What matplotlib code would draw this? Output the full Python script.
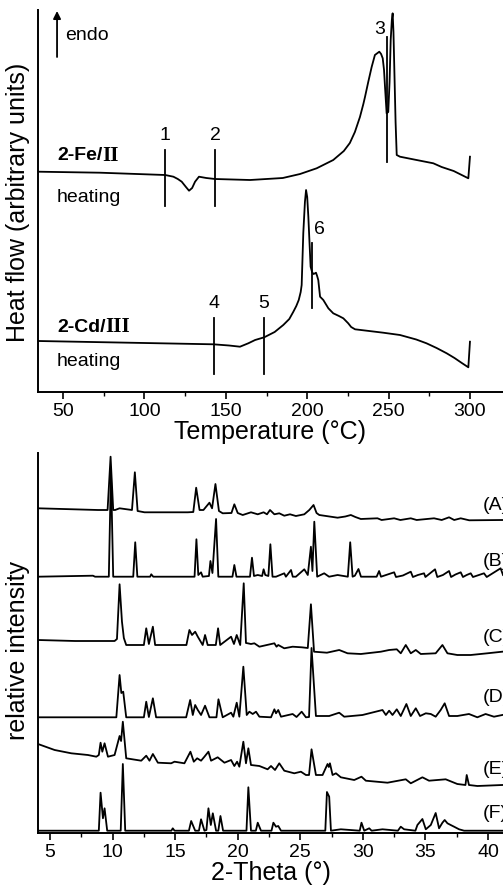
import matplotlib
matplotlib.use("Agg")
import matplotlib.pyplot as plt
from matplotlib.ticker import MultipleLocator

plt.rcParams['font.family'] = ['Liberation Sans', 'DejaVu Sans']

# ---------------- DSC data (temperature in degC, heat flow arbitrary units) -------------
fe_T = [34.8, 72.7, 112.7, 117.8, 120.5, 122.9, 125.5, 127.4, 129.3, 131.1, 133.5, 138.0,
        143.4, 164.9, 185.0, 195.6, 205.8, 216.0, 222.5, 226.2, 229.3, 232.4, 234.5, 235.5,
        237.5, 239.6, 241.6, 244.3, 245.4, 246.4, 247.2, 247.8, 248.8, 249.8, 250.6, 251.3,
        252.0, 252.5, 253.0, 253.5, 254.3, 255.0, 257.0, 267.2, 277.5, 282.6, 290.0, 299.0,
        300.0]
fe_H = [220.3, 219.3, 217.0, 215.3, 213.0, 210.3, 205.0, 201.3, 204.0, 210.3, 215.3, 214.0,
        213.0, 212.0, 214.0, 218.0, 223.7, 232.0, 241.0, 249.0, 260.0, 275.0, 288.0, 295.0,
        310.0, 325.0, 337.0, 340.3, 338.0, 333.7, 322.0, 305.3, 278.7, 280.0, 310.0, 352.0,
        372.0, 378.7, 360.0, 325.3, 270.0, 237.0, 235.3, 232.0, 228.7, 225.0, 221.0, 213.7,
        235.3]

cd_T = [34.8, 100.0, 142.3, 152.0, 158.7, 163.8, 168.0, 173.6, 180.0, 185.3, 189.0, 191.5,
        193.3, 194.8, 196.0, 196.6, 197.6, 198.6, 199.3, 200.0, 200.7, 201.4, 202.1, 203.0,
        203.8, 204.6, 205.4, 206.1, 206.8, 207.9, 209.9, 213.0, 216.0, 219.5, 222.2, 225.2,
        227.0, 229.4, 246.7, 257.0, 267.0, 273.3, 279.5, 285.7, 290.5, 295.0, 299.0, 300.0]
cd_H = [51.0, 49.0, 47.7, 46.5, 45.3, 48.7, 52.0, 54.7, 60.0, 67.0, 73.0, 80.3,
        86.0, 92.0, 100.0, 107.0, 159.0, 190.0, 202.0, 195.0, 175.3, 150.0, 125.3, 120.0,
        118.0, 118.5, 119.3, 116.0, 112.0, 95.3, 92.0, 83.7, 78.7, 76.0, 73.7, 68.7,
        65.0, 62.7, 59.3, 57.0, 52.5, 48.7, 44.0, 38.7, 34.0, 29.0, 24.7, 50.3]

marker_labels = ['1', '2', '3', '4', '5', '6']
marker_T = [112.7, 143.4, 248.8, 142.8, 173.5, 203.1]
marker_lo = [186, 186, 230, 18, 18, 84]
marker_hi = [242, 242, 355, 74, 74, 149]
marker_label_T = [112.7, 143.4, 244.3, 142.8, 173.5, 207.4]
marker_label_H = [257, 257, 362, 89, 89, 162]

# ---------------- XRD data (2-theta in degrees, relative intensity) ---------------------
pattern_A = [(4.04, 324.7), (8.83, 323), (9.6, 323), (9.84, 376.3), (10.05, 323), (10.2, 323),
             (10.56, 324.7), (11.55, 323), (11.78, 360.7), (12.0, 322), (12.55, 320.7),
             (16.01, 320.7), (16.45, 321), (16.68, 345.3), (16.95, 323), (17.26, 323),
             (17.74, 330.3), (17.95, 324.7), (18.22, 349), (18.5, 322), (18.80, 319.7),
             (19.5, 320), (19.73, 328.7), (20.0, 320), (20.40, 318), (21.06, 320.7),
             (21.60, 318.7), (22.07, 320.7), (22.34, 318.7), (22.58, 323), (22.93, 318.7),
             (23.32, 319.7), (23.72, 317.3), (24.18, 318.7), (24.65, 317), (25.32, 318.7),
             (25.72, 323), (26.06, 328), (26.3, 320), (26.52, 318), (27.98, 315.3),
             (28.6, 316.5), (29.04, 318), (29.4, 316), (29.84, 314), (31.17, 314.7),
             (31.5, 313), (32.5, 314.7), (33.0, 313), (33.83, 314.7), (34.3, 313),
             (35.69, 314.7), (36.3, 313), (36.89, 315.7), (37.3, 313), (37.82, 314.7),
             (38.5, 312.7), (41.2, 313)]
pattern_B = [(4.04, 256.3), (8.43, 257.3), (8.6, 256.3), (9.7, 256.3), (9.87, 361.3),
             (10.05, 256.3), (11.65, 256.3), (11.81, 290.7), (11.98, 256.3), (13.0, 256.3),
             (13.09, 258.7), (13.25, 256.3), (16.55, 256.3), (16.70, 293.7), (16.85, 258),
             (17.07, 260.7), (17.2, 256.3), (17.7, 257), (17.82, 272), (17.98, 260),
             (18.27, 314), (18.45, 256.3), (19.58, 256.3), (19.73, 268), (19.9, 256.3),
             (20.98, 256.3), (21.14, 275.3), (21.3, 257), (21.6, 258), (21.95, 257),
             (22.07, 263.7), (22.2, 258), (22.45, 257), (22.61, 288.7), (22.78, 256.3),
             (23.06, 256.3), (23.72, 259.7), (23.85, 256.3), (24.26, 263), (24.4, 256.3),
             (24.65, 256.3), (25.32, 263.7), (25.6, 258), (25.85, 286.3), (25.97, 262),
             (26.12, 311.3), (26.35, 256.3), (26.91, 259.7), (27.3, 256.3), (27.98, 258),
             (28.8, 256.3), (28.99, 290.7), (29.18, 256.3), (29.36, 257.3), (29.65, 264),
             (29.85, 256.3), (31.1, 256.3), (31.30, 262), (31.45, 256.3), (32.5, 260.7),
             (32.65, 256), (33.2, 257.5), (33.83, 261.3), (34.0, 256), (34.4, 258),
             (34.89, 259.7), (35.0, 256), (35.77, 263.7), (35.95, 256), (36.4, 258),
             (36.89, 262), (37.05, 256), (37.4, 258.5), (37.82, 260.7), (38.0, 256),
             (38.3, 258), (38.62, 259.7), (38.8, 256), (39.68, 259.7), (39.9, 256),
             (41.01, 264.7), (41.2, 258)]
pattern_C = [(4.04, 193), (7.0, 192), (10.16, 192), (10.35, 194), (10.56, 248.7), (10.75, 211.3),
             (10.9, 195), (11.09, 188), (12.5, 188), (12.69, 204.7), (12.9, 189), (13.22, 206.3),
             (13.4, 188), (15.9, 188), (16.14, 203), (16.35, 198), (16.60, 201.3), (16.81, 196.3),
             (17.2, 188), (17.39, 198), (17.6, 188), (18.25, 188), (18.43, 204.7), (18.6, 188),
             (19.47, 196.3), (19.7, 189), (19.92, 198), (20.2, 188), (20.48, 249.7), (20.66, 190),
             (20.80, 189.7), (21.06, 189), (21.33, 189.7), (21.73, 186.3), (22.93, 189.7),
             (23.1, 186.3), (23.24, 188), (23.72, 184.7), (24.39, 186.3), (25.11, 185.7),
             (25.6, 185), (25.85, 228.7), (26.1, 181.3), (27.13, 180.3), (28.11, 183),
             (28.78, 179.7), (29.84, 179), (31.44, 181.3), (32.10, 183), (32.71, 183.7),
             (33.03, 179.7), (33.43, 188), (33.83, 179.7), (34.23, 183), (34.63, 179),
             (35.82, 179.7), (36.36, 188), (36.76, 179.7), (37.55, 178), (38.62, 178),
             (39.95, 179.7), (41.14, 181.3)]
pattern_D = [(4.04, 115.7), (10.3, 115.7), (10.56, 158), (10.7, 140), (10.85, 141.3),
             (11.09, 115.7), (12.5, 115.7), (12.69, 131.3), (12.9, 116), (13.22, 134.7),
             (13.48, 115.7), (15.88, 115.7), (16.20, 133), (16.41, 118), (16.60, 128),
             (16.81, 123), (17.07, 118), (17.39, 127.3), (17.74, 115.7), (18.3, 115.7),
             (18.46, 133.7), (18.8, 115.7), (19.47, 120.3), (19.65, 116.3), (19.92, 130.3),
             (20.13, 116.3), (20.45, 166.3), (20.72, 118), (20.93, 121.3), (21.20, 119),
             (21.46, 121.3), (21.73, 116.3), (22.66, 115.7), (22.93, 123.7), (23.06, 119.7),
             (23.24, 123), (23.46, 116.3), (24.39, 119), (24.7, 116), (25.11, 121.3),
             (25.45, 115.7), (25.7, 116), (25.90, 185), (26.25, 117), (27.31, 117),
             (28.11, 120.3), (28.51, 116.3), (29.97, 118), (31.57, 123), (31.84, 118),
             (32.10, 122.3), (32.37, 118), (32.71, 123.7), (33.03, 117), (33.48, 129),
             (33.83, 117), (34.23, 124.7), (34.57, 117), (35.03, 119.7), (35.43, 119),
             (35.82, 116.3), (36.22, 123), (36.54, 129.7), (36.89, 117), (37.55, 117),
             (38.48, 119), (39.15, 115.7), (39.81, 119), (40.48, 116.3), (41.14, 118)]
pattern_E = [(4.04, 89), (5.37, 83), (6.70, 79.7), (8.03, 78), (8.70, 76.3), (8.9, 78),
             (9.04, 90.3), (9.18, 81.3), (9.36, 89.7), (9.63, 76.3), (10.16, 78), (10.56, 97),
             (10.68, 92), (10.82, 111.3), (11.09, 74.7), (12.29, 72.3), (12.69, 77.3),
             (12.95, 72.3), (13.22, 79), (13.62, 70.3), (14.68, 69.7), (14.95, 71.3),
             (15.74, 69.7), (16.22, 81.3), (16.49, 71.3), (16.76, 74.7), (17.07, 72.3),
             (17.34, 76.3), (17.66, 81.3), (17.87, 72.3), (18.40, 75.7), (18.94, 70.3),
             (19.47, 73), (19.73, 67), (19.95, 71.3), (20.13, 66.3), (20.45, 91.3),
             (20.66, 69.7), (20.85, 84.7), (21.06, 68), (21.73, 67), (22.39, 63.7),
             (22.66, 67), (22.98, 63), (23.32, 69.7), (23.72, 62.3), (24.52, 59.7),
             (25.05, 61.3), (25.45, 58), (25.7, 58), (25.90, 83.7), (26.25, 58), (26.78, 58),
             (27.18, 69), (27.28, 66), (27.37, 69.7), (27.58, 58), (27.85, 59.7),
             (28.24, 55.7), (29.31, 53), (29.89, 56.3), (30.24, 52.3), (31.97, 50.3),
             (33.43, 53.7), (33.83, 49.7), (34.76, 55.7), (35.29, 52.3), (36.62, 53.7),
             (37.55, 49), (38.2, 48), (38.30, 58), (38.48, 48), (39.15, 47), (41.14, 48)]
pattern_F = [(4.04, 2.3), (8.9, 2.3), (9.04, 40.3), (9.23, 14.7), (9.36, 24.7), (9.57, 2.3),
             (10.65, 2.3), (10.82, 69), (11.01, 2.3), (14.7, 2.3), (14.81, 4.7), (14.95, 2.3),
             (16.1, 2.3), (16.28, 12), (16.6, 2.3), (16.9, 2.3), (17.07, 13.7), (17.34, 2.3),
             (17.5, 3), (17.66, 24.7), (17.85, 8), (18.01, 19.7), (18.27, 2.3), (18.45, 2.3),
             (18.62, 17), (18.83, 2.3), (20.7, 2.3), (20.85, 45.7), (21.06, 2.3), (21.45, 2.3),
             (21.60, 10.3), (21.86, 2.3), (22.7, 2.3), (22.85, 10.3), (23.06, 6.3), (23.24, 7),
             (23.46, 2.3), (27.0, 2.3), (27.13, 41), (27.31, 36.3), (27.45, 2.3), (28.24, 3.7),
             (29.75, 2.3), (29.89, 10.3), (30.11, 2.3), (30.51, 4.7), (30.7, 2.3), (31.57, 3.7),
             (32.8, 2.3), (33.03, 6.3), (33.30, 3.7), (34.2, 2.3), (34.36, 8), (34.76, 14),
             (35.03, 3.7), (35.43, 8), (35.82, 20), (36.09, 4.7), (36.36, 10.3), (36.54, 13),
             (36.76, 9.7), (37.02, 8), (37.29, 6.3), (37.69, 3.7), (38.09, 2.3), (41.14, 2.3)]
patterns = [pattern_A, pattern_B, pattern_C, pattern_D, pattern_E, pattern_F]
pattern_labels = ['(A)', '(B)', '(C)', '(D)', '(E)', '(F)']
pattern_label_y = [328, 271, 196, 135, 63, 20]

# ---------------- figure ----------------------------------------------------------------
W, H = 503, 891
fig = plt.figure(figsize=(W / 100, H / 100), dpi=100)

def ax_rect(left_px, top_px, right_px, bottom_px):
    return [left_px / W, 1 - bottom_px / H, (right_px - left_px) / W, (bottom_px - top_px) / H]

lw_curve = 1.3
tick_fs = 14
label_fs = 18
note_fs = 14

# ---- top: DSC
ax1 = fig.add_axes(ax_rect(38, 10, 503, 392))
ax1.set_xlim(34.6, 320.3)
ax1.set_ylim(0, 382)
ax1.plot(fe_T, fe_H, color='black', lw=lw_curve)
ax1.plot(cd_T, cd_H, color='black', lw=lw_curve)
for lab, t, lo, hi, lt, lh in zip(marker_labels, marker_T, marker_lo, marker_hi,
                                  marker_label_T, marker_label_H):
    ax1.plot([t, t], [lo, hi], color='black', lw=1.3)
    ax1.text(lt, lh, lab, ha='center', va='center', fontsize=note_fs)

ax1.annotate('', xy=(46.3, 381), xytext=(46.3, 335),
             arrowprops=dict(arrowstyle='-|>', lw=1.3, color='black', mutation_scale=11,
                             shrinkA=0, shrinkB=0))
ax1.text(51.2, 357, 'endo', ha='left', va='center', fontsize=note_fs)

t1 = ax1.text(46.3, 236, '2-Fe/', ha='left', va='center', fontsize=note_fs, fontweight='bold')
ax1.annotate('II', xy=(1, 0.5), xycoords=t1, ha='left', va='center', fontsize=note_fs + 1,
             fontweight='bold', family='Liberation Serif')
ax1.text(46.3, 194, 'heating', ha='left', va='center', fontsize=note_fs)
t2 = ax1.text(46.3, 65, '2-Cd/', ha='left', va='center', fontsize=note_fs, fontweight='bold')
ax1.annotate('III', xy=(1, 0.5), xycoords=t2, ha='left', va='center', fontsize=note_fs + 1,
             fontweight='bold', family='Liberation Serif')
ax1.text(46.3, 30, 'heating', ha='left', va='center', fontsize=note_fs)

ax1.xaxis.set_major_locator(MultipleLocator(50))
ax1.xaxis.set_minor_locator(MultipleLocator(25))
ax1.set_yticks([])
ax1.set_xlabel('Temperature (°C)', fontsize=label_fs, labelpad=0)

# ---- bottom: XRD
ax2 = fig.add_axes(ax_rect(38, 453, 503, 833))
ax2.set_xlim(4.04, 41.2)
ax2.set_ylim(0, 380)
for pat in patterns:
    x = [p[0] for p in pat]
    y = [p[1] for p in pat]
    ax2.plot(x, y, color='black', lw=lw_curve)
for lab, ly in zip(pattern_labels, pattern_label_y):
    ax2.text(39.55, ly, lab, ha='left', va='center', fontsize=note_fs)
ax2.xaxis.set_major_locator(MultipleLocator(5))
ax2.xaxis.set_minor_locator(MultipleLocator(2.5))
ax2.set_yticks([])
ax2.set_xlabel('2-Theta (°)', fontsize=label_fs, labelpad=0)

for ax in (ax1, ax2):
    ax.spines['top'].set_visible(False)
    ax.spines['right'].set_visible(False)
    ax.spines['left'].set_linewidth(1.4)
    ax.spines['bottom'].set_linewidth(1.4)
    ax.tick_params(axis='x', which='major', direction='out', length=5, width=1.2,
                   labelsize=tick_fs, pad=3)
    ax.tick_params(axis='x', which='minor', direction='out', length=3, width=1.0)

fig.text(18 / W, 1 - 202 / H, 'Heat flow (arbitrary units)', rotation=90,
         ha='center', va='center', fontsize=label_fs)
fig.text(18 / W, 1 - 650 / H, 'relative intensity', rotation=90,
         ha='center', va='center', fontsize=label_fs)

fig.savefig('out.png', dpi=100)
